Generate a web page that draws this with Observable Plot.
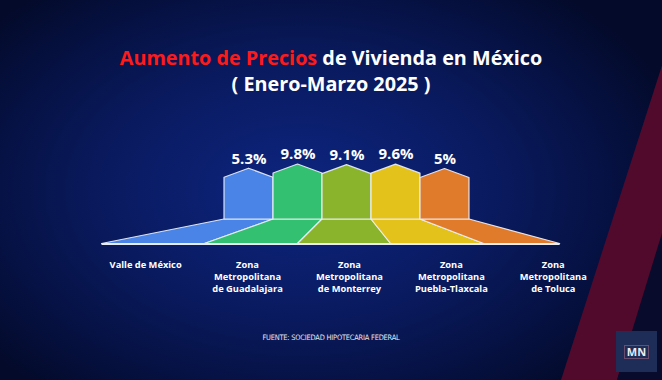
<!DOCTYPE html>
<html><head><meta charset="utf-8">
<script src="https://cdn.jsdelivr.net/npm/d3@7"></script>
<script src="https://cdn.jsdelivr.net/npm/@observablehq/plot@0.6"></script>
<style>
html,body{margin:0;padding:0;width:662px;height:380px;overflow:hidden}
body{position:relative;font-family:"Open Sans",sans-serif;
 background: radial-gradient(ellipse 400px 260px at 300px 190px, #0d2580 0%, #0a1b62 45%, #061245 75%, #030a2a 100%);}
#band{position:absolute;left:0;top:0;width:662px;height:380px;background:#520a2c;
 clip-path:polygon(683px 0,740px 0,617px 380px,561px 380px)}
#corner{position:absolute;left:0;top:0;width:662px;height:380px;background:#080b2c;
 clip-path:polygon(662px 233px,662px 380px,617px 380px)}
#title{position:absolute;top:45px;left:0;width:662px;text-align:center;color:#fff;font-weight:700;font-size:19.8px;line-height:26px}
#title .red{color:#ff1a1a}
#chart{position:absolute;top:100px;left:0}
#caption{position:absolute;top:333px;left:0;width:662px;text-align:center;color:#e4e8f4;font-size:7.4px;font-family:"Liberation Sans Narrow","DejaVu Sans Condensed",sans-serif;letter-spacing:-0.2px}
#logo{position:absolute;left:616px;top:331px;width:41px;height:41px;background:#1d2d58;display:flex;align-items:center;justify-content:center}
#logo span{color:#e8ecf4;font-weight:700;font-size:11px;border:1px solid #6a4c6e;padding:0 2px;line-height:12px}
</style></head>
<body>
<div id="band"></div><div id="corner"></div>
<div id="title"><span class="red">Aumento de Precios</span> de Vivienda en México<br>( Enero-Marzo 2025 )</div>
<div id="chart"></div>
<div id="caption">FUENTE: SOCIEDAD HIPOTECARIA FEDERAL</div>
<div id="logo"><span>MN</span></div>
<script>
const regions = ["Valle de México", "Zona\nMetropolitana\nde Guadalajara", "Zona\nMetropolitana\nde Monterrey", "Zona\nMetropolitana\nPuebla-Tlaxcala", "Zona\nMetropolitana\nde Toluca"];
const values = [5.3, 9.8, 9.1, 9.6, 5.0];
const valueLabels = ["5.3%", "9.8%", "9.1%", "9.6%", "5%"];
const colors = ["#4a84e6", "#33c070", "#8ab42c", "#e4c21c", "#e07b2c"];

// pictogram geometry (in chart units; 1 y-unit = 1 px)
const BASE = 24.5, ROOF = 70.3, ROOF_K = 0.94, ROOF_DROP = 9;
const FAN_C = 2.45, FAN_S = 1.9, FAN_L = -2.5, FAN_R = 6.85;
const LAB_C = 2.55, LAB_S = 2.08;
const n = values.length;
const fanAt = k => k === 0 ? FAN_L : k === n ? FAN_R : FAN_C + FAN_S * (k - n / 2);

const houseRows = [], fanRows = [];
values.forEach((v, i) => {
  const peak = ROOF + ROOF_K * v, wall = peak - ROOF_DROP;
  houseRows.push({region: regions[i], x: i, lo: BASE, hi: wall},
                 {region: regions[i], x: i + 0.5, lo: BASE, hi: peak},
                 {region: regions[i], x: i + 1, lo: BASE, hi: wall});
  fanRows.push({region: regions[i], y: 0, x1: fanAt(i), x2: fanAt(i + 1)},
               {region: regions[i], y: BASE, x1: i, x2: i + 1});
});
const valueRows = values.map((v, i) => ({x: i + 0.5, y: ROOF + ROOF_K * v + 10, label: valueLabels[i]}));
const labelRows = regions.map((r, i) => ({x: LAB_C + LAB_S * (i - 2), y: -16, label: r}));

const H = 228;
const chart = Plot.plot({
  width: 662, height: H,
  marginLeft: 0, marginRight: 0, marginTop: 0, marginBottom: 0,
  style: {background: "transparent", overflow: "visible"},
  x: {domain: [-224 / 49, 438 / 49], axis: null},
  y: {domain: [143.5 - H, 143.5], axis: null},
  color: {domain: regions, range: colors},
  marks: [
    Plot.areaX(fanRows, {y: "y", x1: "x1", x2: "x2", z: "region", fill: "region", stroke: "#eef2fa", strokeWidth: 1.2, strokeOpacity: 0.9}),
    Plot.areaY(houseRows, {x: "x", y1: "lo", y2: "hi", z: "region", fill: "region", stroke: "#eef2fa", strokeWidth: 1.2, strokeOpacity: 0.9}),
    Plot.ruleY([0], {x1: FAN_L, x2: FAN_R, stroke: "#e6ebf4", strokeWidth: 2}),
    Plot.text(valueRows, {x: "x", y: "y", text: "label", fill: "#fff", fontSize: 15, fontWeight: 700, fontFamily: "Open Sans"}),
    Plot.text(labelRows, {x: "x", y: "y", text: "label", fill: "#fff", fontSize: 9.3, fontWeight: 700, fontFamily: "Open Sans", lineAnchor: "top", lineHeight: 1.25})
  ]
});
document.getElementById("chart").appendChild(chart);
</script>
</body></html>
